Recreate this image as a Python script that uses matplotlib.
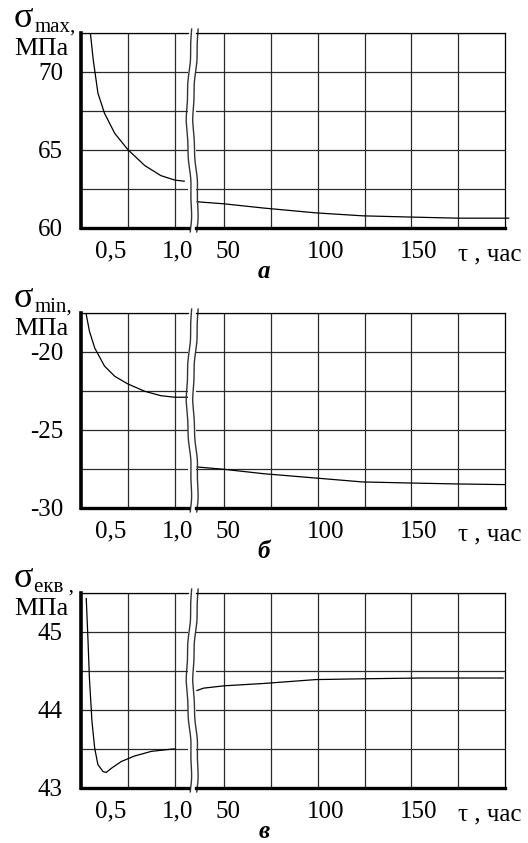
import numpy as np
import matplotlib
matplotlib.use("Agg")
import matplotlib.pyplot as plt
import matplotlib.transforms as mtransforms

plt.rcParams['font.family'] = ['Liberation Serif', 'DejaVu Serif']

# --- data ---
# short times (left part of the broken axis), hours
tau_max_short = [0.10, 0.13, 0.18, 0.25, 0.36, 0.50, 0.68, 0.85, 1.00, 1.10]
s_max_short = [72.5, 70.8, 68.65, 67.36, 66.06, 65.02, 64.0, 63.36, 63.07, 63.0]
tau_min_short = [0.056, 0.09, 0.146, 0.25, 0.36, 0.50, 0.68, 0.85, 1.00, 1.14]
s_min_short = [-17.6, -18.67, -19.74, -20.9, -21.56, -22.05, -22.52, -22.8, -22.9, -22.9]
tau_ekv_short = [0.056, 0.074, 0.09, 0.117, 0.146, 0.18, 0.235, 0.27, 0.32, 0.43, 0.57, 0.75, 0.98, 1.0]
s_ekv_short = [45.43, 44.91, 44.4, 43.85, 43.51, 43.3, 43.21, 43.2, 43.25, 43.34, 43.41, 43.47, 43.5, 43.5]

# long times (right part), hours
tau_max_long = [35.6, 50, 71, 99, 124, 150, 175, 202]
s_max_long = [61.68, 61.55, 61.28, 60.97, 60.78, 60.7, 60.63, 60.63]
tau_min_long = [35.6, 50, 71, 99, 124, 150, 175, 200]
s_min_long = [-27.37, -27.52, -27.8, -28.08, -28.33, -28.4, -28.46, -28.5]
tau_ekv_long = [35.5, 39, 50, 71, 99, 124, 155, 199]
s_ekv_long = [44.25, 44.28, 44.31, 44.34, 44.39, 44.4, 44.41, 44.41]

short_ticks = [0.5, 1.0]
short_labels = ['0,5', '1,0']
long_ticks = [50, 100, 150]
long_labels = ['50', '100', '150']
long_minor = [75, 125, 175]

W, H = 528, 843
fig = plt.figure(figsize=(W / 100, H / 100), dpi=100)


def px_box(x0, x1, y0, y1):
    return [x0 / W, 1 - y1 / H, (x1 - x0) / W, (y1 - y0) / H]


def nudge(labels, shifts):
    # the scanned labels are not centred on their grid lines
    for lab, dx in zip(labels, shifts):
        lab.set_transform(lab.get_transform() +
                          mtransforms.ScaledTranslation(dx / 100, 0, fig.dpi_scale_trans))


def draw_panel(top, bottom, ts, ss, tl, sl, ylim, major, minor, sub, letter):
    axl = fig.add_axes(px_box(81, 188, top, bottom))
    axr = fig.add_axes(px_box(196, 505, top, bottom))
    for ax in (axl, axr):
        ax.set_ylim(ylim)
        ax.set_yticks(major)
        ax.set_yticks(minor, minor=True)
        ax.grid(True, which='both', color='#2a2a2a', lw=0.9)
        ax.set_axisbelow(True)
        ax.tick_params(which='both', length=0, labelsize=18)
        ax.tick_params(axis='x', pad=9)
        ax.tick_params(axis='y', pad=13)
        ax.spines['top'].set_linewidth(0.9)
        ax.spines['bottom'].set_linewidth(2.4)
    axl.spines['left'].set_linewidth(2.6)
    axl.spines['right'].set_visible(False)
    axr.spines['left'].set_visible(False)
    axr.spines['right'].set_linewidth(0.9)
    axr.tick_params(labelleft=False)

    axl.set_xlim(0, 1.14)
    axl.set_xticks(short_ticks)
    nudge(axl.set_xticklabels(short_labels), [-17, 3])
    axr.set_xlim(35, 200)
    axr.set_xticks(long_ticks)
    nudge(axr.set_xticklabels(long_labels), [4, 8, 7])
    axr.set_xticks(long_minor, minor=True)

    axl.set_yticklabels([str(v) for v in major])

    axl.plot(ts, ss, color='k', lw=0.9)
    axr.plot(tl, sl, color='k', lw=0.9, clip_on=False)

    # wavy break lines
    t = np.linspace(-0.02, 1.02, 200)
    wob = 2.4 * np.sin(2 * np.pi * 1.1 * t + 0.8) + 0.4 * np.sin(2 * np.pi * 5 * t)
    axl.plot(1 + (wob + 1.0) / 107, t, color='#333333', lw=1.0,
             transform=axl.transAxes, clip_on=False)
    axr.plot((wob - 0.5) / 309, t, color='#333333', lw=1.0,
             transform=axr.transAxes, clip_on=False)

    # axis labels
    sig = axl.annotate('σ', xy=(0, 1), xycoords='axes fraction',
                       xytext=(-67, 6), textcoords='offset pixels', ha='left',
                       va='baseline', fontsize=26)
    axl.annotate(sub, xy=(1, 1), xycoords=(sig, 'axes fraction'),
                 xytext=(1, 1), textcoords='offset pixels', ha='left',
                 va='baseline', fontsize=15)
    axl.annotate('МПа', xy=(0, 1), xycoords='axes fraction',
                 xytext=(-67, -22), textcoords='offset pixels', ha='left', va='baseline',
                 fontsize=19)
    axr.annotate('τ , час', xy=(175, 0), xycoords=('data', 'axes fraction'),
                 xytext=(0, -32), textcoords='offset pixels', ha='left', va='baseline',
                 fontsize=18)
    axr.annotate(letter, xy=(0.5, 0), xycoords=('figure fraction', 'axes fraction'),
                 xytext=(0, -43), textcoords='offset pixels', ha='center', va='center',
                 fontsize=18, fontweight='bold', fontstyle='italic')
    return axl, axr


draw_panel(33, 228, tau_max_short, s_max_short, tau_max_long, s_max_long,
           (60, 72.5), [60, 65, 70], [62.5, 67.5, 72.5], 'max,', 'а')
draw_panel(313, 508, tau_min_short, s_min_short, tau_min_long, s_min_long,
           (-30, -17.5), [-30, -25, -20], [-27.5, -22.5, -17.5], 'min,', 'б')
draw_panel(593, 788, tau_ekv_short, s_ekv_short, tau_ekv_long, s_ekv_long,
           (43, 45.5), [43, 44, 45], [43.5, 44.5, 45.5], 'екв ,', 'в')

fig.savefig('out.png', dpi=100)
